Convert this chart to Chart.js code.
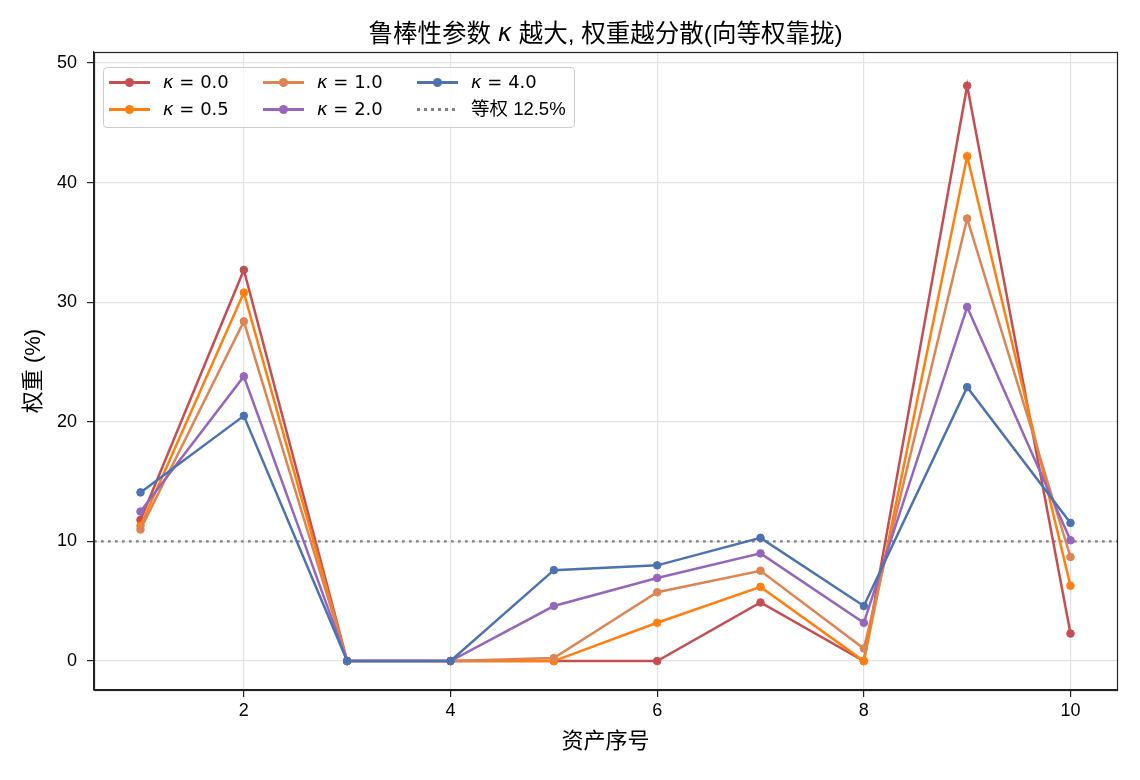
<!DOCTYPE html>
<html>
<head>
<meta charset="utf-8">
<script src="https://cdn.jsdelivr.net/npm/chart.js@4/dist/chart.umd.min.js"></script>
<style>
  body { margin: 0; background: #fff; }
  #wrap { position: relative; width: 1140px; height: 780px; }
  #legend {
    position: absolute; left: 103px; top: 67px; width: 472px; height: 61px;
    box-sizing: border-box; border: 1px solid #cccccc; border-radius: 4px;
    background: rgba(255,255,255,0.8);
    font-family: "Liberation Sans", "Noto Sans CJK SC", sans-serif; font-size: 18.5px; color: #000;
  }
  .item { position: absolute; height: 22px; line-height: 22px; white-space: nowrap; }
  .swatch { position: absolute; left: 0; top: 10px; width: 41px; height: 2.5px; }
  .swatch.dot::after {
    content: ""; position: absolute; left: 16px; top: -3.25px; width: 9px; height: 9px;
    border-radius: 50%; background: inherit;
  }
  .swatch.dash {
    background: repeating-linear-gradient(90deg, #808080 0 2.7px, transparent 2.7px 7px);
  }
  .label { position: absolute; left: 54px; top: 0; }
  .label.math { font-family: "DejaVu Sans", sans-serif; font-size: 18px; }
</style>
</head>
<body>
<div id="wrap">
  <canvas id="chart" width="1140" height="780"></canvas>
  <div id="legend"></div>
</div>
<script>
const assets = [1, 2, 3, 4, 5, 6, 7, 8, 9, 10]
const kappas = ["0.0", "0.5", "1.0", "2.0", "4.0"]
const w_k00 = [11.8, 32.7, 0, 0, 0, 0, 4.9, 0, 48.1, 2.3]
const w_k05 = [11.3, 30.8, 0, 0, 0, 3.2, 6.2, 0, 42.2, 6.3]
const w_k10 = [11.0, 28.4, 0, 0, 0.25, 5.75, 7.55, 1.05, 37.0, 8.7]
const w_k20 = [12.5, 23.8, 0, 0, 4.6, 6.95, 9.0, 3.2, 29.6, 10.1]
const w_k40 = [14.1, 20.5, 0, 0, 7.6, 8.0, 10.3, 4.6, 22.9, 11.55]
const equalLine = 10
const xTicks = [2, 4, 6, 8, 10]
const yTicks = [0, 10, 20, 30, 40, 50]
const xMin = 0.55, xMax = 10.45
const yMin = -2.42, yMax = 50.92

// title pieces: the kappa is set in italics like the original
const titleParts = [
  { t: "鲁棒性参数 ", italic: false },
  { t: "κ", italic: true },
  { t: " 越大, 权重越分散(向等权靠拢)", italic: false }
]

const colors = ["#c44e52", "#ff7f0e", "#dd8452", "#9467bd", "#4c72b0"]
const series = [w_k00, w_k05, w_k10, w_k20, w_k40]
const FONT = "'Liberation Sans', 'Noto Sans CJK SC', sans-serif"

const datasets = series.map((vals, i) => ({
  label: "κ = " + kappas[i],
  data: assets.map((a, j) => ({ x: a, y: vals[j] })),
  borderColor: colors[i],
  backgroundColor: colors[i],
  pointBackgroundColor: colors[i],
  pointBorderColor: colors[i],
  borderWidth: 2.5,
  pointRadius: 3.8,
  pointBorderWidth: 1,
  order: 10 - i
}))

datasets.push({
  label: "等权 12.5%",
  data: [{ x: xMin, y: equalLine }, { x: xMax, y: equalLine }],
  borderColor: "#808080",
  borderWidth: 2.2,
  borderDash: [2.7, 4.3],
  pointRadius: 0,
  order: 20
})

/* ---------- frame on all four sides + title over the plot ---------- */
const frame = {
  id: "frame",
  afterDraw(chart) {
    const { ctx, chartArea: a } = chart
    ctx.save()
    ctx.strokeStyle = "#222"
    ctx.lineWidth = 1.2
    ctx.strokeRect(Math.round(a.left) + 0.5, Math.round(a.top) + 0.5,
      Math.round(a.right - a.left), Math.round(a.bottom - a.top))

    const fontOf = p => p.italic
      ? "italic 24px 'DejaVu Sans', sans-serif"
      : "24.5px " + FONT
    let total = 0
    titleParts.forEach(p => { ctx.font = fontOf(p); total += ctx.measureText(p.t).width })
    let x = (a.left + a.right) / 2 - total / 2
    ctx.fillStyle = "#000"
    ctx.textBaseline = "middle"
    ctx.textAlign = "left"
    titleParts.forEach(p => {
      ctx.font = fontOf(p)
      ctx.fillText(p.t, x, 35)
      x += ctx.measureText(p.t).width
    })
    ctx.restore()
  }
}

new Chart(document.getElementById("chart"), {
  type: "line",
  data: { datasets },
  plugins: [frame],
  options: {
    responsive: false,
    animation: false,
    events: [],
    layout: { padding: { left: 0, right: 23, top: 52, bottom: 0 } },
    plugins: {
      legend: { display: false },
      tooltip: { enabled: false },
      title: { display: false }
    },
    scales: {
      x: {
        type: "linear",
        min: xMin, max: xMax,
        afterBuildTicks: s => { s.ticks = xTicks.map(v => ({ value: v })) },
        afterFit: s => { s.height = 90 },
        ticks: { color: "#000", font: { family: FONT, size: 18 }, padding: 3 },
        grid: { color: "#e2e2e2", lineWidth: 1.2, tickColor: "#222", tickLength: 7 },
        border: { color: "#222", width: 1.2 },
        title: {
          display: true, text: "资产序号", color: "#000",
          font: { family: FONT, size: 22 }, padding: { top: 0, bottom: 24.5 }
        }
      },
      y: {
        type: "linear",
        min: yMin, max: yMax,
        afterBuildTicks: s => { s.ticks = yTicks.map(v => ({ value: v })) },
        afterFit: s => { s.width = 94 },
        ticks: { color: "#000", font: { family: FONT, size: 18 }, padding: 10 },
        grid: { color: "#e2e2e2", lineWidth: 1.2, tickColor: "#222", tickLength: 7 },
        border: { color: "#222", width: 1.2 },
        title: {
          display: true, text: "权重 (%)", color: "#000",
          font: { family: FONT, size: 22 }, padding: { top: 21, bottom: 0 }
        }
      }
    }
  }
})

/* ---------- legend (3 columns, column-major like the original) ---------- */
const legendBox = document.getElementById("legend")
const legendItems = [
  { k: kappas[0], c: colors[0] },
  { k: kappas[1], c: colors[1] },
  { k: kappas[2], c: colors[2] },
  { k: kappas[3], c: colors[3] },
  { k: kappas[4], c: colors[4] },
  { text: "等权 12.5%" }
]
legendItems.forEach((it, i) => {
  const col = Math.floor(i / 2), row = i % 2
  const left = 5 + col * 154, top = 3 + row * 27
  const swatch = it.text
    ? `<div class="swatch dash"></div>`
    : `<div class="swatch dot" style="background:${it.c}"></div>`
  const label = it.text
    ? `<span class="label">${it.text}</span>`
    : `<span class="label math"><i>κ</i> = ${it.k}</span>`
  legendBox.innerHTML += `<div class="item" style="left:${left}px;top:${top}px">${swatch}${label}</div>`
})
</script>
</body>
</html>
